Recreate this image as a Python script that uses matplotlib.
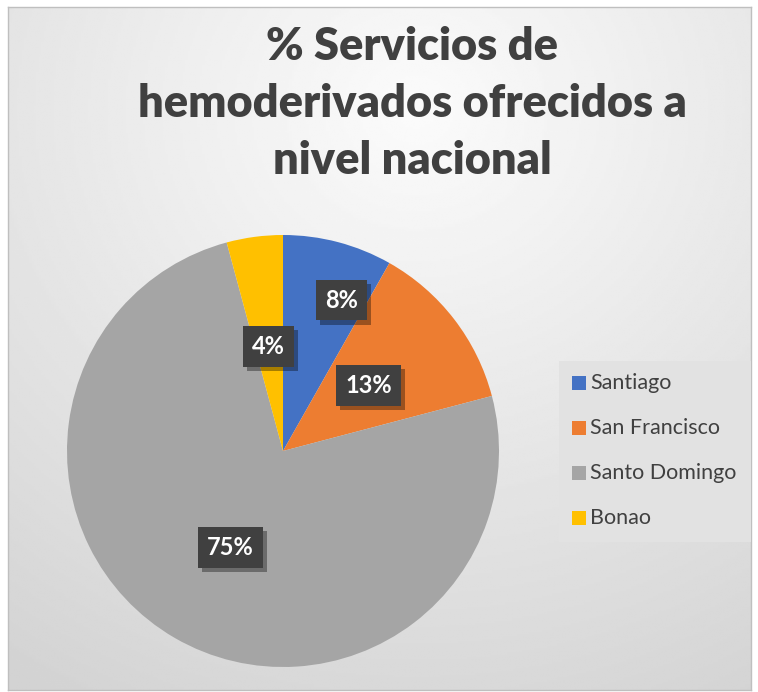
import numpy as np
import matplotlib.pyplot as plt
import matplotlib.patheffects as pe
from matplotlib.patches import Rectangle

# data
regions = ["Santiago", "San Francisco", "Santo Domingo", "Bonao"]
values = [8.2, 12.7, 74.9, 4.2]
colors = ["#4472C4", "#ED7D31", "#A5A5A5", "#FFC000"]
title_lines = ["% Servicios de", "hemoderivados ofrecidos a", "nivel nacional"]

# label placement (fraction of radius, angle shift in degrees)
label_r = [0.75, 0.50, 0.51, 0.49]
label_shift = [-6.5, 0.0, 1.5, 0.5]

plt.rcParams["font.family"] = ["Lato", "DejaVu Sans"]
W, H = 758, 692
fig = plt.figure(figsize=(W / 100, H / 100), dpi=100)
fig.patch.set_facecolor("white")

# background gradient
bg = fig.add_axes([8 / W, 2 / H, 743 / W, 683 / H])
yy, xx = np.mgrid[0:1:300j, 0:1:300j]
d = np.sqrt((xx - 0.55) ** 2 + (yy - 0.15) ** 2)
shade = 0.985 - 0.16 * np.clip(d, 0, 1)
bg.imshow(shade, cmap="gray", vmin=0, vmax=1, aspect="auto", extent=[0, 1, 1, 0])
bg.set_xlim(0, 1)
bg.set_ylim(1, 0)
bg.set_xticks([])
bg.set_yticks([])
for s in bg.spines.values():
    s.set_color("#bfbfbf")
    s.set_linewidth(1.0)

# title
for i, line in enumerate(title_lines):
    fig.text(412 / W, 1 - (46 + 57.5 * i) / H, line, ha="center", va="center",
             fontsize=32.5, fontweight="heavy", color="#404040")

# pie
cx, cy, r = 283, 451, 216
ax = fig.add_axes([(cx - r) / W, (H - cy - r) / H, 2 * r / W, 2 * r / H])
wedges, _ = ax.pie(values, colors=colors, startangle=90, counterclock=False,
                   radius=1, wedgeprops=dict(linewidth=0))
ax.set_xlim(-1, 1)
ax.set_ylim(-1, 1)
ax.set_aspect("equal")
ax.axis("off")

total = sum(values)
for w, v, rr, sh in zip(wedges, values, label_r, label_shift):
    mid = np.deg2rad((w.theta1 + w.theta2) / 2 + sh)
    x, y = rr * np.cos(mid), rr * np.sin(mid)
    t = ax.text(x, y, f"{round(v / total * 100):.0f}%", ha="center", va="center",
                fontsize=17, fontweight="bold", color="white",
                bbox=dict(boxstyle="square,pad=0.38", facecolor="#404040",
                          edgecolor="none"))
    t.get_bbox_patch().set_path_effects([
        pe.SimplePatchShadow(offset=(3, -3), shadow_rgbFace="black", alpha=0.35),
        pe.Normal()])

# legend
lx0, ly0, lw, lh = 559, 361, 192, 181
leg_bg = Rectangle((lx0 / W, 1 - (ly0 + lh) / H), lw / W, lh / H,
                   transform=fig.transFigure, facecolor="#e2e2e2",
                   edgecolor="none", zorder=1)
fig.patches.append(leg_bg)
for i, (name, c) in enumerate(zip(regions, colors)):
    ycen = 383 + 45 * i
    fig.patches.append(Rectangle((572 / W, 1 - (ycen + 7) / H), 14 / W, 14 / H,
                                 transform=fig.transFigure, facecolor=c,
                                 edgecolor="none", zorder=2))
    fig.text(590 / W, 1 - ycen / H, name, ha="left", va="center",
             fontsize=15.5, color="#404040")

fig.savefig("out.png", dpi=100)
